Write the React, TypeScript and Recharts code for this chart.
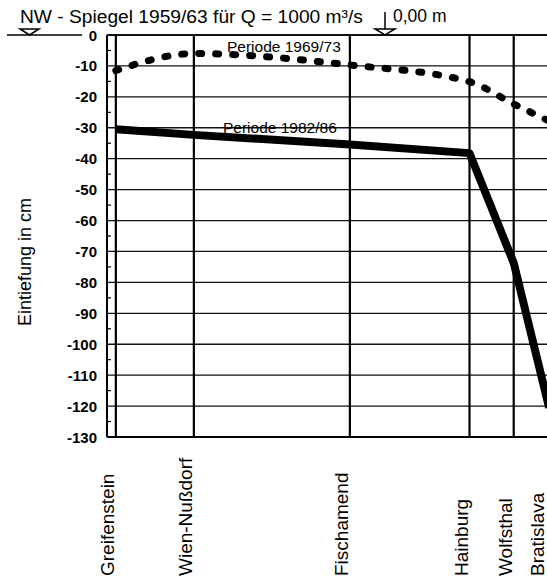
import { LineChart, Line, XAxis, YAxis, ReferenceLine } from 'recharts';

const FONT = 'Liberation Sans, Arial, Helvetica, sans-serif';

// stations along the Danube, positions as (approx.) river km
const stations = ['Greifenstein', 'Wien-Nußdorf', 'Fischamend', 'Hainburg', 'Wolfsthal', 'Bratislava'];
const stationKm = [1949, 1934, 1904, 1881, 1872.5, 1865.7];

// Eintiefung in cm
const periode6973 = [-11.5, -6, -9.7, -15.1, -22.3, -27.8];
const periode8286 = [-30.5, -32.3, -35.4, -38.2, -73.7, -120.5];

const yTicks = [0, -5, -10, -15, -20, -25, -30, -35, -40, -45, -50, -55, -60, -65,
  -70, -75, -80, -85, -90, -95, -100, -105, -110, -115, -120, -125, -130];
const yGrid = yTicks.filter(v => v % 10 === 0);

const data = stationKm.map((km, i) => ({ km, p6973: periode6973[i], p8286: periode8286[i] }));

function YTick({ x, y, payload }: any) {
  const v = payload.value;
  if (v % 10 !== 0) {
    return <line x1={x + 10} x2={x + 14} y1={y} y2={y} stroke="#000" strokeWidth={1.2} />;
  }
  return (
    <text x={x} y={y} dy={5.5} textAnchor="end" fontFamily={FONT} fontSize={15} fontWeight="bold" fill="#000">
      {v}
    </text>
  );
}

function XTick({ x, payload }: any) {
  const name = stations[stationKm.indexOf(payload.value)];
  // keep the last label inside the visible frame
  const bx = Math.min(x - 2, 544);
  const by = 576;
  return (
    <text x={bx} y={by} transform={`rotate(-90 ${bx} ${by})`} textAnchor="start"
      fontFamily={FONT} fontSize={19} fill="#000">
      {name}
    </text>
  );
}

export default function App() {
  return (
    <div style={{ position: 'absolute', left: 0, top: 0, width: 547, height: 577, overflow: 'hidden', background: '#fff' }}>
      <LineChart width={560} height={577} data={data} margin={{ top: 35, right: 0, bottom: 0, left: 0 }}>
        <XAxis dataKey="km" type="number" domain={[1863.6, 1950.7]} reversed allowDataOverflow
          ticks={stationKm} interval={0} tick={<XTick />} tickLine={false} height={140}
          axisLine={{ stroke: '#000', strokeWidth: 2 }} />
        <YAxis type="number" domain={[-130, 0]} ticks={yTicks} interval={0} width={107}
          tick={<YTick />} tickLine={false} tickSize={0} tickMargin={10}
          axisLine={{ stroke: '#000', strokeWidth: 2 }} />
        {yGrid.map(v => (
          <ReferenceLine key={'g' + v} y={v} stroke="#111" strokeWidth={v === 0 ? 1.8 : 1.3} />
        ))}
        {stationKm.map(km => (
          <ReferenceLine key={'s' + km} x={km} stroke="#000" strokeWidth={2.2} />
        ))}
        <Line dataKey="p6973" type="monotone" stroke="#000" strokeWidth={7} strokeDasharray="3 14"
          strokeLinecap="round" dot={false} activeDot={false} isAnimationActive={false} />
        <Line dataKey="p8286" type="linear" stroke="#000" strokeWidth={8} strokeLinejoin="round"
          dot={false} activeDot={false} isAnimationActive={false} />
      </LineChart>
      <svg width={547} height={577} style={{ position: 'absolute', left: 0, top: 0, pointerEvents: 'none' }}>
        <g fontFamily={FONT} fill="#000">
          <text x={20} y={23} fontSize={19.2}>NW - Spiegel 1959/63 für Q = 1000 m³/s</text>
          <text x={393} y={22} fontSize={17.5}>0,00 m</text>
          <text x={227} y={52} fontSize={15.5}>Periode 1969/73</text>
          <text x={223} y={133} fontSize={15.5}>Periode 1982/86</text>
          <text x={31} y={262} fontSize={18} textAnchor="middle" transform="rotate(-90 31 262)">Eintiefung in cm</text>
        </g>
        <line x1={7} x2={82} y1={35} y2={35} stroke="#000" strokeWidth={1.5} />
        <polygon points="20,29 39,29 29.5,35" fill="#fff" stroke="#000" strokeWidth={1.5} />
        <line x1={385} x2={385} y1={12} y2={30} stroke="#000" strokeWidth={1.5} />
        <polygon points="375,29 395,29 385,35" fill="#fff" stroke="#000" strokeWidth={1.5} />
      </svg>
    </div>
  );
}
